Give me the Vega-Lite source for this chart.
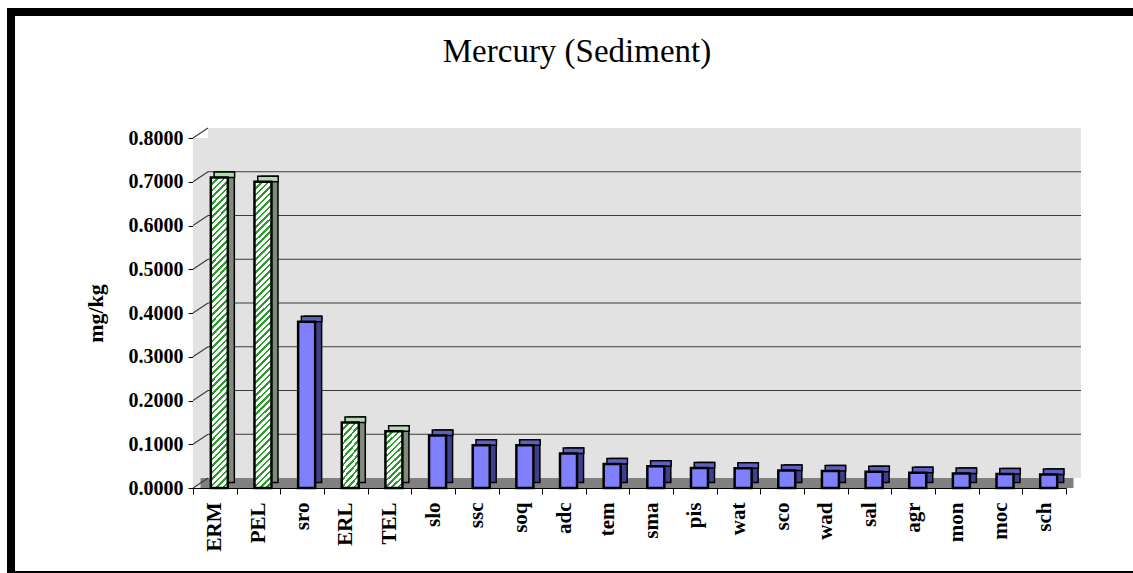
{
  "$schema": "https://vega.github.io/schema/vega-lite/v6.json",
  "width": 1135,
  "height": 563,
  "autosize": "none",
  "padding": {"left": 11, "top": 12, "right": 0, "bottom": 0},
  "background": "white",
  "config": {
    "view": {"stroke": "black", "strokeWidth": 8, "fill": "white"},
    "font": "Liberation Serif",
    "axis": {"labelFont": "Liberation Serif", "titleFont": "Liberation Serif"}
  },
  "title": {
    "text": "Mercury (Sediment)",
    "font": "Liberation Serif",
    "fontSize": 33,
    "fontWeight": "normal",
    "color": "black",
    "anchor": "middle",
    "frame": "group",
    "baseline": "alphabetic",
    "offset": 0,
    "dx": -1.5,
    "dy": 83
  },
  "datasets": {
    "hg": [
      {"site": "ERM", "v": 0.71, "kind": "std"},
      {"site": "PEL", "v": 0.70, "kind": "std"},
      {"site": "sro", "v": 0.38, "kind": "site"},
      {"site": "ERL", "v": 0.15, "kind": "std"},
      {"site": "TEL", "v": 0.13, "kind": "std"},
      {"site": "slo", "v": 0.12, "kind": "site"},
      {"site": "ssc", "v": 0.098, "kind": "site"},
      {"site": "soq", "v": 0.098, "kind": "site"},
      {"site": "adc", "v": 0.079, "kind": "site"},
      {"site": "tem", "v": 0.055, "kind": "site"},
      {"site": "sma", "v": 0.050, "kind": "site"},
      {"site": "pis", "v": 0.046, "kind": "site"},
      {"site": "wat", "v": 0.045, "kind": "site"},
      {"site": "sco", "v": 0.040, "kind": "site"},
      {"site": "wad", "v": 0.039, "kind": "site"},
      {"site": "sal", "v": 0.037, "kind": "site"},
      {"site": "agr", "v": 0.035, "kind": "site"},
      {"site": "mon", "v": 0.033, "kind": "site"},
      {"site": "moc", "v": 0.032, "kind": "site"},
      {"site": "sch", "v": 0.031, "kind": "site"}
    ],
    "grid": [
      {"g": 0}, {"g": 0.1}, {"g": 0.2}, {"g": 0.3}, {"g": 0.4},
      {"g": 0.5}, {"g": 0.6}, {"g": 0.7}, {"g": 0.8}
    ]
  },
  "layer": [
    {
      "layer": [
        {
          "data": {"values": [{}]},
          "mark": {"type": "rect", "fill": "#e2e2e2"},
          "encoding": {
            "x": {"datum": 0, "type": "quantitative", "scale": {"domain": [0, 1], "range": [182, 1055], "nice": false, "zero": false}, "axis": null},
            "x2": {"datum": 1},
            "y": {"datum": 0.8, "type": "quantitative"},
            "y2": {"datum": 0}
          }
        },
        {
          "data": {"values": [{}]},
          "mark": {"type": "rect", "fill": "#e2e2e2", "xOffset": 15, "x2Offset": 15, "yOffset": -10, "y2Offset": -10},
          "encoding": {
            "x": {"datum": 0, "type": "quantitative"},
            "x2": {"datum": 1},
            "y": {"datum": 0.8, "type": "quantitative"},
            "y2": {"datum": 0}
          }
        },
        {
          "data": {"values": [{}]},
          "mark": {"type": "rect", "fill": "#808080", "xOffset": 7.5, "x2Offset": 7.5, "yOffset": -10},
          "encoding": {
            "x": {"datum": 0, "type": "quantitative"},
            "x2": {"datum": 1},
            "y": {"datum": 0, "type": "quantitative"},
            "y2": {"datum": 0}
          }
        },
        {
          "data": {"name": "grid"},
          "transform": [{"filter": "datum.g > 0.05 && datum.g < 0.75"}],
          "mark": {"type": "rule", "stroke": "#3a3a3a", "strokeWidth": 1.2, "xOffset": 15, "x2Offset": 15, "yOffset": -10},
          "encoding": {
            "x": {"datum": 0, "type": "quantitative"},
            "x2": {"datum": 1},
            "y": {"field": "g", "type": "quantitative"}
          }
        },
        {
          "data": {"name": "grid"},
          "mark": {"type": "rule", "stroke": "#3a3a3a", "strokeWidth": 1.2, "x2Offset": 15, "y2Offset": -10},
          "encoding": {
            "x": {"datum": 0, "type": "quantitative"},
            "x2": {"datum": 0},
            "y": {"field": "g", "type": "quantitative"},
            "y2": {"field": "g"}
          }
        }
      ]
    },
    {
      "data": {"name": "hg"},
      "encoding": {
        "x": {
          "field": "site",
          "type": "nominal",
          "sort": null,
          "scale": {"range": [182, 1055], "paddingInner": 0, "paddingOuter": 0},
          "axis": {
            "orient": "bottom",
            "offset": -87,
            "title": null,
            "labelAngle": -90,
            "labelFontSize": 21,
            "labelFontWeight": "bold",
            "labelColor": "black",
            "labelPadding": 8,
            "tickBand": "extent",
            "tickSize": 6,
            "tickColor": "black",
            "domainColor": "black",
            "domainWidth": 1,
            "grid": false
          }
        }
      },
      "layer": [
        {
          "mark": {"type": "bar", "width": 17, "xOffset": 11, "yOffset": -5.5, "y2Offset": -7.5, "stroke": "black", "strokeWidth": 1.5},
          "encoding": {
            "y": {"field": "v", "type": "quantitative"},
            "fill": {"condition": {"test": "datum.kind === 'std'", "value": "#7f8c7d"}, "value": "#3f3f8f"}
          }
        },
        {
          "mark": {"type": "bar", "width": 20.5, "xOffset": 9.5, "yOffset": -5.5, "stroke": "black", "strokeWidth": 1.5},
          "encoding": {
            "y": {"field": "v", "type": "quantitative"},
            "y2": {"field": "v"},
            "fill": {"condition": {"test": "datum.kind === 'std'", "value": "#b5dab2"}, "value": "#5f5fc0"}
          }
        },
        {
          "mark": {"type": "bar", "width": 17, "xOffset": 4.5, "y2Offset": -2, "stroke": "black", "strokeWidth": 2.5},
          "encoding": {
            "y": {
              "field": "v",
              "type": "quantitative",
              "scale": {"domain": [0, 0.8], "range": [476, 126], "nice": false, "zero": true},
              "axis": {
                "orient": "left",
                "offset": -182,
                "values": [0, 0.1, 0.2, 0.3, 0.4, 0.5, 0.6, 0.7, 0.8],
                "format": ".4f",
                "labelFontSize": 20,
                "labelFontWeight": "bold",
                "labelColor": "black",
                "labelPadding": 5,
                "tickSize": 5,
                "tickColor": "black",
                "domainColor": "black",
                "domainWidth": 1,
                "grid": false,
                "title": "mg/kg",
                "titleFontSize": 22,
                "titleFontWeight": "bold",
                "titleColor": "black",
                "titlePadding": 21
              }
            },
            "fill": {
              "condition": [
                {
                  "test": "datum.kind === 'std' && datum.v > 0.5",
                  "value": {
                    "gradient": "linear", "x1": 0, "y1": 0, "x2": 0.0581, "y2": 1.052,
                    "stops": [
                      {"offset": 0, "color": "#2e9b2e"}, {"offset": 0.008, "color": "#2e9b2e"}, {"offset": 0.008, "color": "#ffffff"}, {"offset": 0.02, "color": "#ffffff"},
                      {"offset": 0.02, "color": "#2e9b2e"}, {"offset": 0.028, "color": "#2e9b2e"}, {"offset": 0.028, "color": "#ffffff"}, {"offset": 0.04, "color": "#ffffff"},
                      {"offset": 0.04, "color": "#2e9b2e"}, {"offset": 0.048, "color": "#2e9b2e"}, {"offset": 0.048, "color": "#ffffff"}, {"offset": 0.06, "color": "#ffffff"},
                      {"offset": 0.06, "color": "#2e9b2e"}, {"offset": 0.068, "color": "#2e9b2e"}, {"offset": 0.068, "color": "#ffffff"}, {"offset": 0.08, "color": "#ffffff"},
                      {"offset": 0.08, "color": "#2e9b2e"}, {"offset": 0.088, "color": "#2e9b2e"}, {"offset": 0.088, "color": "#ffffff"}, {"offset": 0.1, "color": "#ffffff"},
                      {"offset": 0.1, "color": "#2e9b2e"}, {"offset": 0.108, "color": "#2e9b2e"}, {"offset": 0.108, "color": "#ffffff"}, {"offset": 0.12, "color": "#ffffff"},
                      {"offset": 0.12, "color": "#2e9b2e"}, {"offset": 0.128, "color": "#2e9b2e"}, {"offset": 0.128, "color": "#ffffff"}, {"offset": 0.14, "color": "#ffffff"},
                      {"offset": 0.14, "color": "#2e9b2e"}, {"offset": 0.148, "color": "#2e9b2e"}, {"offset": 0.148, "color": "#ffffff"}, {"offset": 0.16, "color": "#ffffff"},
                      {"offset": 0.16, "color": "#2e9b2e"}, {"offset": 0.168, "color": "#2e9b2e"}, {"offset": 0.168, "color": "#ffffff"}, {"offset": 0.18, "color": "#ffffff"},
                      {"offset": 0.18, "color": "#2e9b2e"}, {"offset": 0.188, "color": "#2e9b2e"}, {"offset": 0.188, "color": "#ffffff"}, {"offset": 0.2, "color": "#ffffff"},
                      {"offset": 0.2, "color": "#2e9b2e"}, {"offset": 0.208, "color": "#2e9b2e"}, {"offset": 0.208, "color": "#ffffff"}, {"offset": 0.22, "color": "#ffffff"},
                      {"offset": 0.22, "color": "#2e9b2e"}, {"offset": 0.228, "color": "#2e9b2e"}, {"offset": 0.228, "color": "#ffffff"}, {"offset": 0.24, "color": "#ffffff"},
                      {"offset": 0.24, "color": "#2e9b2e"}, {"offset": 0.248, "color": "#2e9b2e"}, {"offset": 0.248, "color": "#ffffff"}, {"offset": 0.26, "color": "#ffffff"},
                      {"offset": 0.26, "color": "#2e9b2e"}, {"offset": 0.268, "color": "#2e9b2e"}, {"offset": 0.268, "color": "#ffffff"}, {"offset": 0.28, "color": "#ffffff"},
                      {"offset": 0.28, "color": "#2e9b2e"}, {"offset": 0.288, "color": "#2e9b2e"}, {"offset": 0.288, "color": "#ffffff"}, {"offset": 0.3, "color": "#ffffff"},
                      {"offset": 0.3, "color": "#2e9b2e"}, {"offset": 0.308, "color": "#2e9b2e"}, {"offset": 0.308, "color": "#ffffff"}, {"offset": 0.32, "color": "#ffffff"},
                      {"offset": 0.32, "color": "#2e9b2e"}, {"offset": 0.328, "color": "#2e9b2e"}, {"offset": 0.328, "color": "#ffffff"}, {"offset": 0.34, "color": "#ffffff"},
                      {"offset": 0.34, "color": "#2e9b2e"}, {"offset": 0.348, "color": "#2e9b2e"}, {"offset": 0.348, "color": "#ffffff"}, {"offset": 0.36, "color": "#ffffff"},
                      {"offset": 0.36, "color": "#2e9b2e"}, {"offset": 0.368, "color": "#2e9b2e"}, {"offset": 0.368, "color": "#ffffff"}, {"offset": 0.38, "color": "#ffffff"},
                      {"offset": 0.38, "color": "#2e9b2e"}, {"offset": 0.388, "color": "#2e9b2e"}, {"offset": 0.388, "color": "#ffffff"}, {"offset": 0.4, "color": "#ffffff"},
                      {"offset": 0.4, "color": "#2e9b2e"}, {"offset": 0.408, "color": "#2e9b2e"}, {"offset": 0.408, "color": "#ffffff"}, {"offset": 0.42, "color": "#ffffff"},
                      {"offset": 0.42, "color": "#2e9b2e"}, {"offset": 0.428, "color": "#2e9b2e"}, {"offset": 0.428, "color": "#ffffff"}, {"offset": 0.44, "color": "#ffffff"},
                      {"offset": 0.44, "color": "#2e9b2e"}, {"offset": 0.448, "color": "#2e9b2e"}, {"offset": 0.448, "color": "#ffffff"}, {"offset": 0.46, "color": "#ffffff"},
                      {"offset": 0.46, "color": "#2e9b2e"}, {"offset": 0.468, "color": "#2e9b2e"}, {"offset": 0.468, "color": "#ffffff"}, {"offset": 0.48, "color": "#ffffff"},
                      {"offset": 0.48, "color": "#2e9b2e"}, {"offset": 0.488, "color": "#2e9b2e"}, {"offset": 0.488, "color": "#ffffff"}, {"offset": 0.5, "color": "#ffffff"},
                      {"offset": 0.5, "color": "#2e9b2e"}, {"offset": 0.508, "color": "#2e9b2e"}, {"offset": 0.508, "color": "#ffffff"}, {"offset": 0.52, "color": "#ffffff"},
                      {"offset": 0.52, "color": "#2e9b2e"}, {"offset": 0.528, "color": "#2e9b2e"}, {"offset": 0.528, "color": "#ffffff"}, {"offset": 0.54, "color": "#ffffff"},
                      {"offset": 0.54, "color": "#2e9b2e"}, {"offset": 0.548, "color": "#2e9b2e"}, {"offset": 0.548, "color": "#ffffff"}, {"offset": 0.56, "color": "#ffffff"},
                      {"offset": 0.56, "color": "#2e9b2e"}, {"offset": 0.568, "color": "#2e9b2e"}, {"offset": 0.568, "color": "#ffffff"}, {"offset": 0.58, "color": "#ffffff"},
                      {"offset": 0.58, "color": "#2e9b2e"}, {"offset": 0.588, "color": "#2e9b2e"}, {"offset": 0.588, "color": "#ffffff"}, {"offset": 0.6, "color": "#ffffff"},
                      {"offset": 0.6, "color": "#2e9b2e"}, {"offset": 0.608, "color": "#2e9b2e"}, {"offset": 0.608, "color": "#ffffff"}, {"offset": 0.62, "color": "#ffffff"},
                      {"offset": 0.62, "color": "#2e9b2e"}, {"offset": 0.628, "color": "#2e9b2e"}, {"offset": 0.628, "color": "#ffffff"}, {"offset": 0.64, "color": "#ffffff"},
                      {"offset": 0.64, "color": "#2e9b2e"}, {"offset": 0.648, "color": "#2e9b2e"}, {"offset": 0.648, "color": "#ffffff"}, {"offset": 0.66, "color": "#ffffff"},
                      {"offset": 0.66, "color": "#2e9b2e"}, {"offset": 0.668, "color": "#2e9b2e"}, {"offset": 0.668, "color": "#ffffff"}, {"offset": 0.68, "color": "#ffffff"},
                      {"offset": 0.68, "color": "#2e9b2e"}, {"offset": 0.688, "color": "#2e9b2e"}, {"offset": 0.688, "color": "#ffffff"}, {"offset": 0.7, "color": "#ffffff"},
                      {"offset": 0.7, "color": "#2e9b2e"}, {"offset": 0.708, "color": "#2e9b2e"}, {"offset": 0.708, "color": "#ffffff"}, {"offset": 0.72, "color": "#ffffff"},
                      {"offset": 0.72, "color": "#2e9b2e"}, {"offset": 0.728, "color": "#2e9b2e"}, {"offset": 0.728, "color": "#ffffff"}, {"offset": 0.74, "color": "#ffffff"},
                      {"offset": 0.74, "color": "#2e9b2e"}, {"offset": 0.748, "color": "#2e9b2e"}, {"offset": 0.748, "color": "#ffffff"}, {"offset": 0.76, "color": "#ffffff"},
                      {"offset": 0.76, "color": "#2e9b2e"}, {"offset": 0.768, "color": "#2e9b2e"}, {"offset": 0.768, "color": "#ffffff"}, {"offset": 0.78, "color": "#ffffff"},
                      {"offset": 0.78, "color": "#2e9b2e"}, {"offset": 0.788, "color": "#2e9b2e"}, {"offset": 0.788, "color": "#ffffff"}, {"offset": 0.8, "color": "#ffffff"},
                      {"offset": 0.8, "color": "#2e9b2e"}, {"offset": 0.808, "color": "#2e9b2e"}, {"offset": 0.808, "color": "#ffffff"}, {"offset": 0.82, "color": "#ffffff"},
                      {"offset": 0.82, "color": "#2e9b2e"}, {"offset": 0.828, "color": "#2e9b2e"}, {"offset": 0.828, "color": "#ffffff"}, {"offset": 0.84, "color": "#ffffff"},
                      {"offset": 0.84, "color": "#2e9b2e"}, {"offset": 0.848, "color": "#2e9b2e"}, {"offset": 0.848, "color": "#ffffff"}, {"offset": 0.86, "color": "#ffffff"},
                      {"offset": 0.86, "color": "#2e9b2e"}, {"offset": 0.868, "color": "#2e9b2e"}, {"offset": 0.868, "color": "#ffffff"}, {"offset": 0.88, "color": "#ffffff"},
                      {"offset": 0.88, "color": "#2e9b2e"}, {"offset": 0.888, "color": "#2e9b2e"}, {"offset": 0.888, "color": "#ffffff"}, {"offset": 0.9, "color": "#ffffff"},
                      {"offset": 0.9, "color": "#2e9b2e"}, {"offset": 0.908, "color": "#2e9b2e"}, {"offset": 0.908, "color": "#ffffff"}, {"offset": 0.92, "color": "#ffffff"},
                      {"offset": 0.92, "color": "#2e9b2e"}, {"offset": 0.928, "color": "#2e9b2e"}, {"offset": 0.928, "color": "#ffffff"}, {"offset": 0.94, "color": "#ffffff"},
                      {"offset": 0.94, "color": "#2e9b2e"}, {"offset": 0.948, "color": "#2e9b2e"}, {"offset": 0.948, "color": "#ffffff"}, {"offset": 0.96, "color": "#ffffff"},
                      {"offset": 0.96, "color": "#2e9b2e"}, {"offset": 0.968, "color": "#2e9b2e"}, {"offset": 0.968, "color": "#ffffff"}, {"offset": 0.98, "color": "#ffffff"},
                      {"offset": 0.98, "color": "#2e9b2e"}, {"offset": 0.988, "color": "#2e9b2e"}, {"offset": 0.988, "color": "#ffffff"}, {"offset": 1, "color": "#ffffff"}
                    ]
                  }
                },
                {
                  "test": "datum.kind === 'std'",
                  "value": {
                    "gradient": "linear", "x1": 0, "y1": 0, "x2": 0.3425, "y2": 1.189,
                    "stops": [
                      {"offset": 0, "color": "#2e9b2e"}, {"offset": 0.034, "color": "#2e9b2e"}, {"offset": 0.034, "color": "#ffffff"}, {"offset": 0.0833, "color": "#ffffff"},
                      {"offset": 0.0833, "color": "#2e9b2e"}, {"offset": 0.1173, "color": "#2e9b2e"}, {"offset": 0.1173, "color": "#ffffff"}, {"offset": 0.1667, "color": "#ffffff"},
                      {"offset": 0.1667, "color": "#2e9b2e"}, {"offset": 0.2007, "color": "#2e9b2e"}, {"offset": 0.2007, "color": "#ffffff"}, {"offset": 0.25, "color": "#ffffff"},
                      {"offset": 0.25, "color": "#2e9b2e"}, {"offset": 0.284, "color": "#2e9b2e"}, {"offset": 0.284, "color": "#ffffff"}, {"offset": 0.3333, "color": "#ffffff"},
                      {"offset": 0.3333, "color": "#2e9b2e"}, {"offset": 0.3673, "color": "#2e9b2e"}, {"offset": 0.3673, "color": "#ffffff"}, {"offset": 0.4167, "color": "#ffffff"},
                      {"offset": 0.4167, "color": "#2e9b2e"}, {"offset": 0.4507, "color": "#2e9b2e"}, {"offset": 0.4507, "color": "#ffffff"}, {"offset": 0.5, "color": "#ffffff"},
                      {"offset": 0.5, "color": "#2e9b2e"}, {"offset": 0.534, "color": "#2e9b2e"}, {"offset": 0.534, "color": "#ffffff"}, {"offset": 0.5833, "color": "#ffffff"},
                      {"offset": 0.5833, "color": "#2e9b2e"}, {"offset": 0.6173, "color": "#2e9b2e"}, {"offset": 0.6173, "color": "#ffffff"}, {"offset": 0.6667, "color": "#ffffff"},
                      {"offset": 0.6667, "color": "#2e9b2e"}, {"offset": 0.7007, "color": "#2e9b2e"}, {"offset": 0.7007, "color": "#ffffff"}, {"offset": 0.75, "color": "#ffffff"},
                      {"offset": 0.75, "color": "#2e9b2e"}, {"offset": 0.784, "color": "#2e9b2e"}, {"offset": 0.784, "color": "#ffffff"}, {"offset": 0.8333, "color": "#ffffff"},
                      {"offset": 0.8333, "color": "#2e9b2e"}, {"offset": 0.8673, "color": "#2e9b2e"}, {"offset": 0.8673, "color": "#ffffff"}, {"offset": 0.9167, "color": "#ffffff"},
                      {"offset": 0.9167, "color": "#2e9b2e"}, {"offset": 0.9507, "color": "#2e9b2e"}, {"offset": 0.9507, "color": "#ffffff"}, {"offset": 1, "color": "#ffffff"}
                    ]
                  }
                }
              ],
              "value": "#8080ff"
            }
          }
        }
      ]
    }
  ],
  "resolve": {"scale": {"x": "independent"}, "axis": {"x": "independent"}}
}
